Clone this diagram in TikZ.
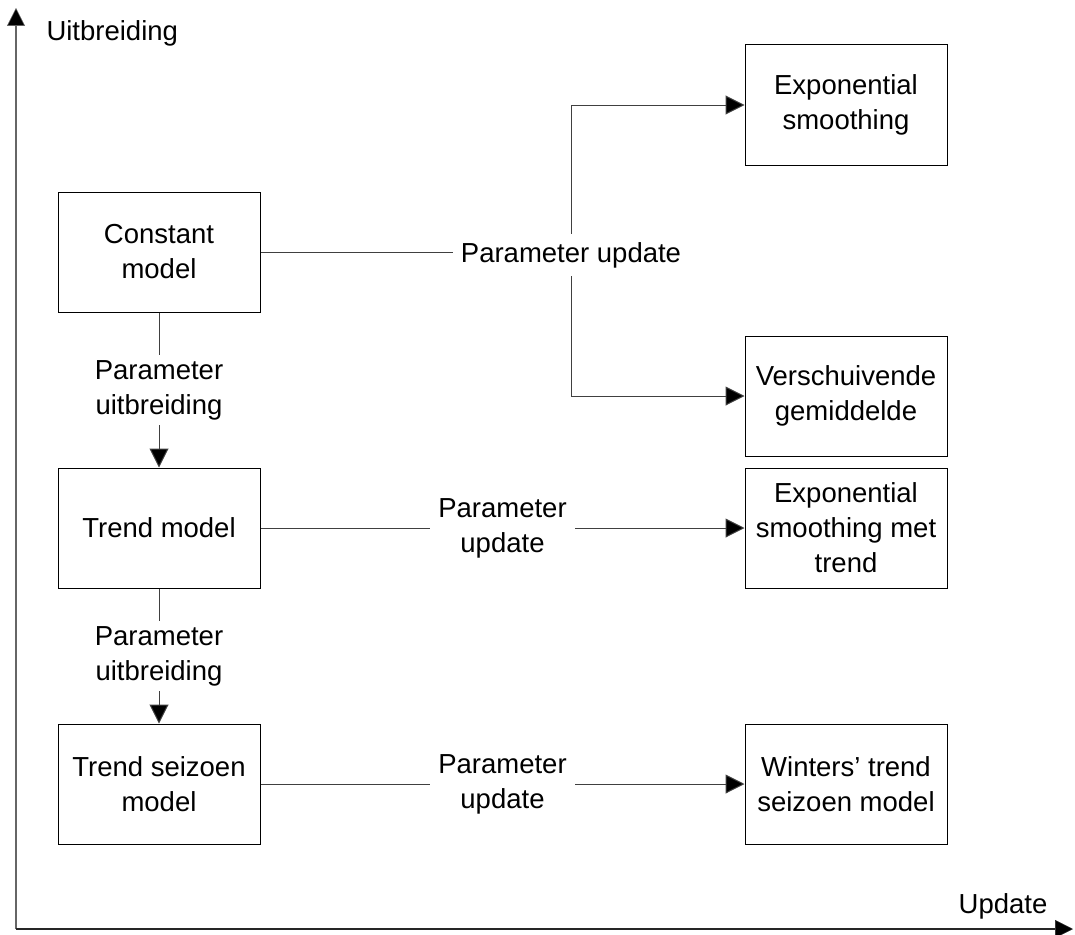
\documentclass[tikz,border=0pt]{standalone}
\usepackage{fontspec}
\setmainfont{Liberation Sans}
\usetikzlibrary{arrows.meta}
\begin{document}
\begin{tikzpicture}[x=1pt,y=-1pt,
  every node/.style={font=\fontsize{27.5}{35}\selectfont},
  box/.style={draw,line width=1pt,minimum width=202pt,minimum height=120pt,align=center,inner sep=2pt},
  conn/.style={line width=1pt,draw=black!75},
  arr/.style={conn,-{Triangle[length=19pt,width=19pt,fill=black]}},
  axis/.style={line width=2pt,draw=black!60,-{Triangle[length=18pt,width=18pt,fill=black,line width=0.5pt]}},
  lbl/.style={fill=white,align=center,inner sep=4pt}]
\useasboundingbox (0,0) rectangle (1075,934);
% axes
\coordinate (o) at (16,929);
\coordinate (ytip) at (16,8);
\coordinate (xtip) at (1073,929);
\draw[axis] (o) -- (ytip);
\draw[axis,draw=black!85] (o) -- (xtip);
\node[anchor=west] (ylab) at (43,33) {Uitbreiding};
\node (xlab) at (1003,906) {Update};
% boxes
\node[box] (cm) at (159,252) {Constant\\model};
\node[box] (tm) at (159,528) {Trend model};
\node[box] (tsm) at (159,784) {Trend seizoen\\model};
\node[box] (es) at (846,105) {Exponential\\smoothing};
\node[box] (vg) at (846,396) {Verschuivende\\gemiddelde};
\node[box] (est) at (846,528) {Exponential\\smoothing met\\trend};
\node[box] (wm) at (846,784) {Winters' trend\\seizoen model};
% top update fork
\node[lbl,inner sep=8pt] (pu1) at (571,255) {Parameter update};
\draw[conn] (cm.east) -- (cm.east -| pu1.west);
\draw[arr] (pu1.north) |- (es.west);
\draw[arr] (pu1.south) |- (vg.west);
% vertical extensions
\draw[arr] (cm.south) -- node[lbl,inner sep=5pt] (pe1) {Parameter\\uitbreiding} (tm.north);
\draw[arr] (tm.south) -- node[lbl,inner sep=5pt] (pe2) {Parameter\\uitbreiding} (tsm.north);
% horizontal updates
\draw[arr] (tm.east) -- node[lbl,inner sep=8pt] (pu2) {Parameter\\update} (est.west);
\draw[arr] (tsm.east) -- node[lbl,inner sep=8pt] (pu3) {Parameter\\update} (wm.west);
\end{tikzpicture}
\end{document}
